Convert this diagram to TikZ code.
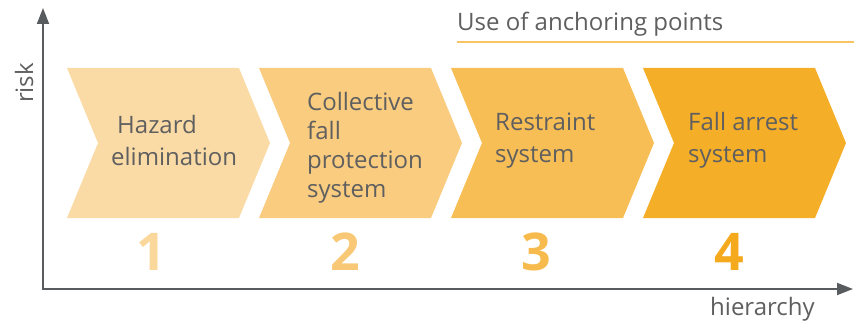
\documentclass[tikz,border=0pt]{standalone}
\usepackage{fontspec}
\setmainfont{Open Sans}
\usetikzlibrary{arrows.meta}
\definecolor{axisgray}{RGB}{89,92,95}
\definecolor{txtgray}{RGB}{95,95,95}
\definecolor{cA}{RGB}{250,219,166}
\definecolor{cB}{RGB}{249,204,128}
\definecolor{cC}{RGB}{247,190,86}
\definecolor{cD}{RGB}{245,174,40}
\definecolor{nA}{RGB}{250,215,155}
\definecolor{nB}{RGB}{249,200,118}
\definecolor{nC}{RGB}{247,186,76}
\definecolor{nD}{RGB}{245,170,30}
\definecolor{lineorange}{RGB}{248,196,100}
\tikzset{
  axisline/.style={draw=axisgray, line width=1.8pt, -{Triangle[length=16pt,width=12pt]}},
  boxtext/.style={text=txtgray, font=\fontsize{24}{32}\selectfont, align=left, anchor=base west, inner sep=0pt},
  boxtextB/.style={boxtext, font=\fontsize{24}{29}\selectfont},
  numtext/.style={font=\fontsize{52}{52}\selectfont\bfseries, anchor=base, inner sep=0pt},
  labeltext/.style={text=txtgray, font=\fontsize{24}{28}\selectfont, inner sep=0pt},
}
\begin{document}
\begin{tikzpicture}[x=1pt,y=-1pt]
\useasboundingbox (0,0) rectangle (854,321);
% chevrons
\def\chev#1#2{\fill[#2] (#1,68) -- ({#1+172},68) -- ({#1+203},143) -- ({#1+172},218) -- (#1,218) -- ({#1+31},143) -- cycle;}
\chev{67}{cA}
\chev{259}{cB}
\chev{451}{cC}
\chev{643}{cD}
% axes
\coordinate (origin) at (43,289);
\coordinate (ytip) at (43,8);
\coordinate (xtip) at (853,289);
\draw[axisline] ([yshift=0.9pt]origin) -- (ytip);
\draw[axisline] ([xshift=-0.9pt]origin) -- (xtip);
\node[labeltext, rotate=90, anchor=base] (risk) at (33,83) {risk};
\node[labeltext, anchor=base west] (hier) at (710,315) {hierarchy};
% anchoring points
\node[labeltext, anchor=base west] (anch) at (457,31) {Use of anchoring points};
\coordinate (lineend) at (854,42);
\draw[lineorange, line width=1.6pt] (457,42) -- (lineend);
% box texts (anchor = baseline of last line)
\node[boxtext] (t1) at (117,165) {Hazard\\\hspace*{-6pt}elimination};
\node[boxtextB] (t2) at (307,197) {Collective\\fall\\protection\\system};
\node[boxtext] (t3) at (495,162) {Restraint\\system};
\node[boxtext] (t4) at (688,162) {Fall arrest\\system};
% numbers
\node[numtext, text=nA] (n1) at (151,270) {1};
\node[numtext, text=nB] (n2) at (345,270) {2};
\node[numtext, text=nC] (n3) at (536,270) {3};
\node[numtext, text=nD] (n4) at (729,270) {4};
\end{tikzpicture}
\end{document}
